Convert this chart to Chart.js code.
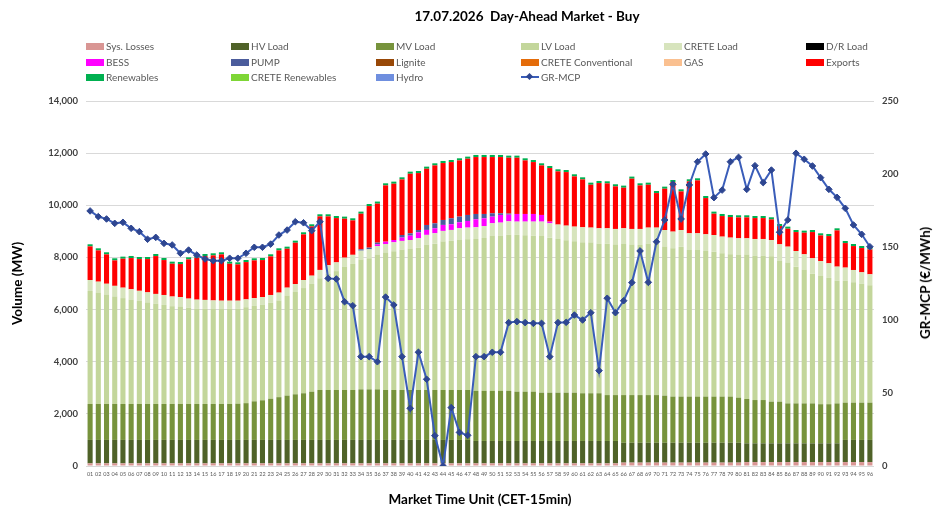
<!DOCTYPE html>
<html><head><meta charset="utf-8">
<script src="https://cdn.jsdelivr.net/npm/chart.js@4.4.1/dist/chart.umd.min.js"></script>
<style>
html,body{margin:0;padding:0;background:#fff;}
#wrap{position:relative;width:950px;height:527px;overflow:hidden;}
#c{display:block;}
#title{position:absolute;left:527px;top:16px;transform:translate(-50%,-50%);font:bold 13.5px Lato, sans-serif;white-space:pre;color:#000;}
.li{position:absolute;display:flex;align-items:center;font:10px Lato, sans-serif;color:#595959;white-space:nowrap;transform:translateY(-50%);}
.sw{display:inline-block;width:18px;height:7px;margin-right:2px;}
.lsw{position:relative;display:inline-block;width:18px;height:7px;margin-right:2px;}
.lsw:before{content:"";position:absolute;left:0;right:0;top:2.5px;height:2px;background:#3A5DB9;}
.lsw:after{content:"";position:absolute;left:6px;top:0.5px;width:5px;height:5px;background:#2E4691;transform:rotate(45deg);}
#y1title{position:absolute;left:925px;top:283px;transform:translate(-50%,-50%) rotate(-90deg);font:bold 13.5px Lato, sans-serif;color:#000;white-space:nowrap;}
</style></head>
<body>
<div id="wrap">
<canvas id="c" width="950" height="527"></canvas>
<div id="title">17.07.2026  Day-Ahead Market - Buy</div>
<div id="y1title">GR-MCP (€/MWh)</div>
<div id="legend"></div>
</div>
<script>
const periods = ["01","02","03","04","05","06","07","08","09","10","11","12","13","14","15","16","17","18","19","20","21","22","23","24","25","26","27","28","29","30","31","32","33","34","35","36","37","38","39","40","41","42","43","44","45","46","47","48","49","50","51","52","53","54","55","56","57","58","59","60","61","62","63","64","65","66","67","68","69","70","71","72","73","74","75","76","77","78","79","80","81","82","83","84","85","86","87","88","89","90","91","92","93","94","95","96"];

const sysLosses = [100,100,100,100,100,100,100,100,100,100,100,100,100,100,100,100,100,100,100,100,100,100,100,100,100,100,100,100,100,100,100,100,100,100,100,100,100,100,100,100,100,100,100,100,100,100,100,100,100,100,100,100,100,100,100,100,100,100,100,100,100,100,100,100,100,130,130,130,130,130,130,130,130,130,130,130,130,130,130,130,150,150,150,150,150,150,150,150,150,150,150,150,150,150,150,150];
const hvLoad = [900,900,900,900,900,900,900,900,900,900,900,900,900,900,900,900,900,900,900,900,900,900,900,900,900,900,900,900,900,900,900,900,900,900,900,900,900,900,900,900,900,900,900,900,900,900,900,860,860,860,860,860,860,860,860,860,860,860,860,860,860,860,860,860,860,760,760,760,760,760,760,760,760,760,760,760,760,760,760,760,720,720,720,720,720,720,720,720,720,720,720,720,850,850,850,850];
const mvLoad = [1380,1380,1380,1380,1380,1380,1380,1380,1380,1380,1380,1380,1380,1380,1380,1380,1380,1380,1390,1410,1480,1520,1580,1640,1700,1750,1790,1850,1915,1915,1915,1915,1915,1940,1940,1940,1915,1915,1915,1915,1915,1915,1915,1915,1915,1915,1915,1920,1920,1920,1920,1920,1890,1890,1890,1855,1855,1855,1855,1855,1830,1830,1830,1760,1760,1830,1830,1830,1830,1830,1810,1770,1770,1770,1770,1770,1770,1770,1770,1730,1700,1660,1660,1600,1600,1530,1530,1530,1530,1500,1500,1530,1430,1430,1430,1430];
const lvLoad = [4335,4275,4200,4125,4060,4005,3950,3895,3840,3800,3750,3740,3690,3655,3650,3640,3640,3650,3645,3680,3660,3660,3680,3710,3840,3925,4035,4135,4285,4455,4560,4735,4835,4980,5031,5159,5260,5324,5378,5414,5458,5570,5614,5692,5719,5773,5778,5826,5866,5949,5964,6004,6013,6003,5983,6013,5944,5890,5844,5806,5796,5778,5747,5807,5772,5792,5762,5757,5803,5793,5718,5689,5753,5625,5625,5587,5561,5497,5459,5473,5528,5548,5548,5574,5413,5403,5247,5125,4977,4914,4845,4707,4679,4619,4559,4503];
const creteLoad = [420,415,410,405,400,395,390,385,380,380,370,360,350,345,340,330,320,310,305,300,300,300,300,300,300,305,310,315,320,330,335,340,350,340,340,340,340,340,340,340,360,380,400,410,420,430,450,450,460,480,490,500,510,520,540,545,550,555,560,560,570,575,580,590,600,605,610,615,620,630,635,640,640,640,640,640,640,640,640,640,635,630,630,625,620,610,600,595,590,580,560,540,500,470,440,420];
const drLoad = [0,0,0,0,0,0,0,0,0,0,0,0,0,0,0,0,0,0,0,0,0,0,0,0,0,0,0,0,0,0,0,0,0,0,0,0,0,0,0,0,0,0,0,0,0,0,0,0,0,0,0,0,0,0,0,0,0,0,0,0,0,0,0,0,0,0,0,0,0,0,0,0,0,0,0,0,0,0,0,0,0,0,0,0,0,0,0,0,0,0,0,0,0,0,0,0];
const bess = [0,0,0,0,0,0,0,0,0,0,0,0,0,0,0,0,0,0,0,0,0,0,0,0,0,0,0,0,0,0,0,0,0,0,0,64,90,90,128,166,230,190,190,230,217,230,256,307,295,256,295,256,294,294,294,256,64,0,0,0,0,0,0,0,0,0,0,0,0,0,0,0,0,0,0,0,0,0,0,0,0,0,0,0,0,0,0,0,0,0,0,0,0,0,0,0];
const pump = [0,0,0,0,0,0,0,0,0,0,0,0,0,0,0,0,0,0,0,0,0,0,0,0,0,0,0,0,0,0,0,0,0,50,64,64,0,0,100,90,90,190,190,190,230,217,230,204,166,128,64,40,0,0,0,0,0,0,0,0,0,0,0,0,0,0,0,0,0,0,0,0,0,0,0,0,0,0,0,0,0,0,0,0,0,0,0,0,0,0,0,0,0,0,0,0];
const lignite = [0,0,0,0,0,0,0,0,0,0,0,0,0,0,0,0,0,0,0,0,0,0,0,0,0,0,0,0,0,0,0,0,0,0,0,0,0,0,0,0,0,0,0,0,0,0,0,0,0,0,0,0,0,0,0,0,0,0,0,0,0,0,0,0,0,0,0,0,0,0,0,0,0,0,0,0,0,0,0,0,0,0,0,0,0,0,0,0,0,0,0,0,0,0,0,0];
const creteConventional = [0,0,0,0,0,0,0,0,0,0,0,0,0,0,0,0,0,0,0,0,0,0,0,0,0,0,0,0,0,0,0,0,0,0,0,0,0,0,0,0,0,0,0,0,0,0,0,0,0,0,0,0,0,0,0,0,0,0,0,0,0,0,0,0,0,0,0,0,0,0,0,0,0,0,0,0,0,0,0,0,0,0,0,0,0,0,0,0,0,0,0,0,0,0,0,0];
const gas = [0,0,0,0,0,0,0,0,0,0,0,0,0,0,0,0,0,0,0,0,0,0,0,0,0,0,0,0,0,0,0,0,0,0,0,0,0,0,0,0,0,0,0,0,0,0,0,0,0,0,0,0,0,0,0,0,0,0,0,0,0,0,0,0,0,0,0,0,0,0,0,0,0,0,0,0,0,0,0,0,0,0,0,0,0,0,0,0,0,0,0,0,0,0,0,0];
const exportsVol = [1289,1200,1127,977,1110,1196,1217,1277,1452,1339,1258,1266,1504,1608,1682,1728,1777,1418,1393,1432,1447,1419,1480,1620,1493,1583,1749,1891,2055,1875,1700,1495,1321,1367,1595,1496,2158,2158,2132,2285,2183,2157,2221,2183,2157,2157,2157,2183,2183,2157,2157,2144,2157,2055,1991,1901,2055,2040,2055,1928,1837,1645,1736,1723,1634,1557,1928,1671,1645,1326,1582,1902,1480,1992,2030,1390,816,790,790,803,803,802,802,790,700,688,726,827,1006,981,1045,1390,942,917,930,955];
const renewables = [80,80,80,80,80,80,80,80,80,80,80,80,80,80,80,80,80,80,80,80,80,80,80,80,80,80,80,80,80,80,80,80,80,80,80,80,80,80,80,80,80,80,80,80,80,80,80,80,80,80,80,80,80,80,80,80,80,80,80,80,80,80,80,80,80,80,80,80,80,80,80,80,80,80,80,80,80,80,80,80,80,80,80,80,80,80,80,80,80,80,80,80,80,80,80,80];
const creteRenewables = [0,0,0,0,0,0,0,0,0,0,0,0,0,0,0,0,0,0,0,0,0,0,0,0,0,0,0,0,0,0,0,0,0,0,0,0,0,0,0,0,0,0,0,0,0,0,0,0,0,0,0,0,0,0,0,0,0,0,0,0,0,0,0,0,0,0,0,0,0,0,0,0,0,0,0,0,0,0,0,0,0,0,0,0,0,0,0,0,0,0,0,0,0,0,0,0];
const hydro = [0,0,0,0,0,0,0,0,0,0,0,0,0,0,0,0,0,0,0,0,0,0,0,0,0,0,0,0,0,0,0,0,0,0,0,0,0,0,0,0,0,0,0,0,0,0,0,0,0,0,0,0,0,0,0,0,0,0,0,0,0,0,0,0,0,0,0,0,0,0,0,0,0,0,0,0,0,0,0,0,0,0,0,0,0,0,0,0,0,0,0,0,0,0,0,0];
const grMcp = [174.7,170.8,169.2,166.2,166.9,162.8,160.5,155.3,156.6,152.5,151.4,145.7,147.9,144.5,141.8,140.6,140.6,142.3,142.3,145.7,149.8,149.8,152.0,158.2,161.6,167.3,166.6,161.2,167.3,128.5,128.1,112.5,109.8,74.9,74.9,71.4,115.7,110.3,74.9,39.5,77.9,59.4,20.8,0,40,23,21,74.9,74.9,77.9,77.9,98.2,98.9,98.2,97.7,97.7,74.9,98.2,98.4,103.4,100,105,65.3,114.9,105,113.2,125.6,147.3,125.8,153.6,168.5,193.0,169.2,192.5,208.4,213.7,183.8,189.0,208.4,211.4,189.5,205.7,194.1,202.7,160.1,168.5,214.2,210.1,205.5,197.5,189.5,184.0,176.5,165.1,158.7,150.2];

const volumeTicks = [0,2000,4000,6000,8000,10000,12000,14000];
const priceTicks = [0,50,100,150,200,250];

const barSeries = [
  ['Sys. Losses', sysLosses, '#D99694'],
  ['HV Load', hvLoad, '#4F6228'],
  ['MV Load', mvLoad, '#77933C'],
  ['LV Load', lvLoad, '#C3D69B'],
  ['CRETE Load', creteLoad, '#D7E4BD'],
  ['D/R Load', drLoad, '#000000'],
  ['BESS', bess, '#FF00FF'],
  ['PUMP', pump, '#4B5C9C'],
  ['Lignite', lignite, '#984807'],
  ['CRETE Conventional', creteConventional, '#E46C0A'],
  ['GAS', gas, '#FAC090'],
  ['Exports', exportsVol, '#FF0000'],
  ['Renewables', renewables, '#00B050'],
  ['CRETE Renewables', creteRenewables, '#7ED636'],
  ['Hydro', hydro, '#6F8FDF']
];

const datasets = barSeries.map(([label, data, color]) => ({
  type: 'bar', label, data, backgroundColor: color, borderWidth: 0,
  yAxisID: 'y', stack: 'buy', order: 1,
  barPercentage: 0.62, categoryPercentage: 1.0
}));
datasets.push({
  type: 'line', label: 'GR-MCP', data: grMcp, yAxisID: 'y1', order: 0,
  borderColor: '#3A5DB9', borderWidth: 2, tension: 0, fill: false,
  pointStyle: 'rectRot', pointRadius: 3.3, pointBackgroundColor: '#2E4691',
  pointBorderColor: '#2E4691', pointBorderWidth: 1
});

const fmt = v => String(v).replace(/\B(?=(\d{3})+(?!\d))/g, ',');

new Chart(document.getElementById('c'), {
  data: { labels: periods, datasets },
  options: {
    responsive: false, animation: false, devicePixelRatio: 1,
    layout: { padding: { top: 101, left: 0, right: 0, bottom: 0 } },
    plugins: { legend: { display: false }, title: { display: false }, tooltip: { enabled: false } },
    scales: {
      x: {
        stacked: true,
        grid: { display: false, drawTicks: false },
        border: { display: false },
        ticks: { autoSkip: false, maxRotation: 0, minRotation: 0, padding: 5,
          font: { family: 'Lato', size: 5.5 }, color: '#595959' },
        title: { display: true, text: 'Market Time Unit (CET-15min)',
          font: { family: 'Lato', size: 13.5, weight: 'bold' }, color: '#000',
          padding: { top: 0, bottom: 19 } },
        afterFit(s) { s.height = 61; }
      },
      y: {
        stacked: true, position: 'left', min: 0, max: 14000,
        afterBuildTicks(s) { s.ticks = volumeTicks.map(v => ({ value: v })); },
        ticks: { padding: 8, callback: v => fmt(v),
          font: { family: 'Lato', size: 9.5, weight: 'bold' }, color: '#404040' },
        grid: { color: '#D9D9D9', drawTicks: false, lineWidth: 1 },
        border: { display: false },
        title: { display: true, text: 'Volume (MW)',
          font: { family: 'Lato', size: 13.5, weight: 'bold' }, color: '#000',
          padding: { top: 10, bottom: 0 } },
        afterFit(s) { s.width = 86; }
      },
      y1: {
        position: 'right', min: 0, max: 250,
        afterBuildTicks(s) { s.ticks = priceTicks.map(v => ({ value: v })); },
        ticks: { padding: 8, font: { family: 'Lato', size: 9.5, weight: 'bold' }, color: '#404040' },
        grid: { display: false, drawTicks: false },
        border: { display: false },
        afterFit(s) { s.width = 76; }
      }
    }
  }
});

// HTML legend built from the dataset definitions
const legend = document.getElementById('legend');
const colX = [86, 231, 376, 521, 664, 806];
const rowY = [46, 62, 77];
const items = barSeries.map(([label, , color]) => ({ label, color })).concat([{ label: 'GR-MCP', line: true }]);
items.forEach((it, i) => {
  const d = document.createElement('div');
  d.className = 'li';
  d.style.left = colX[i % 6] + 'px';
  d.style.top = rowY[Math.floor(i / 6)] + 'px';
  const sw = document.createElement('span');
  if (it.line) { sw.className = 'lsw'; } else { sw.className = 'sw'; sw.style.background = it.color; }
  d.appendChild(sw);
  d.appendChild(document.createTextNode(it.label));
  legend.appendChild(d);
});
</script>
</body></html>
